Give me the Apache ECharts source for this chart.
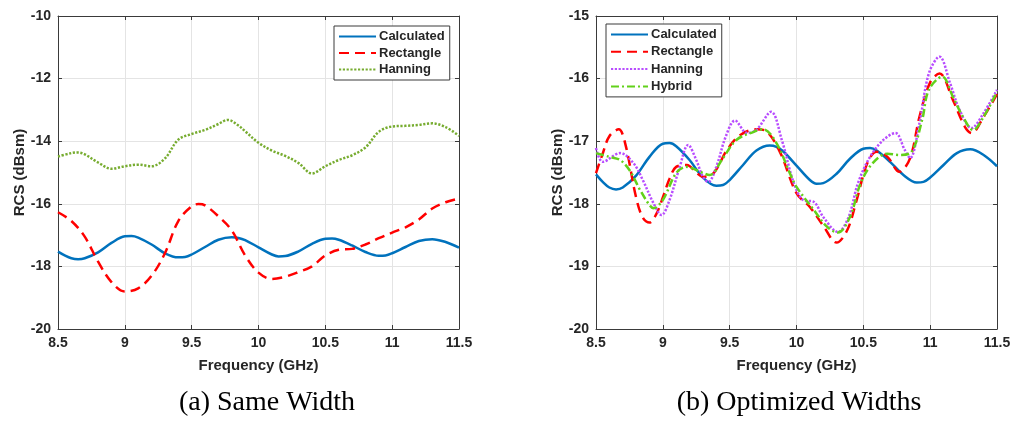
<!DOCTYPE html>
<html>
<head>
<meta charset="utf-8">
<script src="https://cdn.jsdelivr.net/npm/echarts@6/dist/echarts.min.js"></script>
<style>
  html, body { margin: 0; padding: 0; background: #ffffff; }
  #chart { width: 1015px; height: 421px; }
</style>
</head>
<body>
<div id="chart"></div>
<script>
// ---- Data (frequency in GHz, RCS in dBsm) ----
const xTicks = [8.5, 9, 9.5, 10, 10.5, 11, 11.5];
const captions = ['(a) Same Width', '(b) Optimized Widths'];

// Calculated response (same in both panels)
const calcFreq = [8.5, 8.55, 8.6, 8.65, 8.7, 8.8, 8.9, 9.0, 9.05, 9.1, 9.2, 9.3, 9.4, 9.45, 9.5, 9.6, 9.7, 9.8, 9.85, 9.9,
  10.0, 10.1, 10.15, 10.2, 10.3, 10.4, 10.5, 10.55, 10.6, 10.7, 10.8, 10.9, 10.95, 11.0, 11.1, 11.2, 11.3, 11.4, 11.5];
const calcRcs = [-17.53, -17.65, -17.74, -17.77, -17.74, -17.55, -17.25, -17.04, -17.03, -17.08, -17.30, -17.58, -17.71, -17.70, -17.62, -17.38, -17.15, -17.07, -17.09, -17.16,
  -17.39, -17.62, -17.68, -17.67, -17.52, -17.28, -17.12, -17.11, -17.15, -17.33, -17.54, -17.66, -17.65, -17.58, -17.38, -17.19, -17.13, -17.22, -17.40];

// (a) Same width
const rectAFreq = [8.5, 8.6, 8.7, 8.8, 8.9, 9.0, 9.1, 9.2, 9.3, 9.4, 9.5, 9.55, 9.6, 9.7, 9.8, 9.9, 10.0, 10.1, 10.2, 10.3,
  10.4, 10.5, 10.6, 10.7, 10.8, 10.9, 11.0, 11.1, 11.2, 11.3, 11.4, 11.5];
const rectARcs = [-16.27, -16.55, -17.05, -17.85, -18.50, -18.80, -18.70, -18.30, -17.58, -16.55, -16.08, -16.01, -16.05, -16.40, -16.85, -17.65, -18.20, -18.40, -18.33, -18.18,
  -18.00, -17.65, -17.47, -17.44, -17.30, -17.10, -16.92, -16.75, -16.50, -16.15, -15.95, -15.83];
const hannAFreq = [8.5, 8.6, 8.65, 8.7, 8.8, 8.9, 9.0, 9.1, 9.2, 9.3, 9.4, 9.5, 9.6, 9.7, 9.77, 9.85, 9.9, 10.0, 10.1, 10.2,
  10.3, 10.4, 10.5, 10.6, 10.7, 10.8, 10.9, 11.0, 11.1, 11.2, 11.3, 11.4, 11.5];
const hannARcs = [-14.49, -14.38, -14.36, -14.42, -14.68, -14.88, -14.80, -14.75, -14.80, -14.55, -13.95, -13.77, -13.64, -13.45, -13.32, -13.50, -13.68, -14.05, -14.30, -14.47,
  -14.70, -15.03, -14.80, -14.60, -14.45, -14.20, -13.70, -13.53, -13.51, -13.48, -13.43, -13.55, -13.83];

// (b) Optimized widths
const rectBFreq = [8.5, 8.55, 8.6, 8.67, 8.72, 8.8, 8.85, 8.9, 8.95, 9.0, 9.05, 9.1, 9.18, 9.25, 9.3, 9.38, 9.48, 9.58, 9.7, 9.78,
  9.88, 10.0, 10.1, 10.2, 10.3, 10.38, 10.45, 10.53, 10.6, 10.68, 10.77, 10.85, 10.92, 11.0, 11.07, 11.17, 11.26, 11.31, 11.4, 11.5];
const rectBRcs = [-17.51, -17.20, -16.92, -16.81, -17.05, -17.90, -18.22, -18.30, -18.17, -17.90, -17.60, -17.41, -17.38, -17.50, -17.57, -17.51, -17.14, -16.90, -16.81, -16.85,
  -17.19, -17.83, -18.05, -18.35, -18.62, -18.42, -17.94, -17.35, -17.17, -17.25, -17.49, -17.27, -16.61, -16.06, -15.92, -16.34, -16.77, -16.87, -16.61, -16.25];
const hannBFreq = [8.5, 8.55, 8.68, 8.78, 8.85, 8.93, 8.99, 9.05, 9.12, 9.19, 9.25, 9.3, 9.34, 9.4, 9.47, 9.54, 9.63, 9.7, 9.81, 9.89,
  9.98, 10.05, 10.13, 10.2, 10.31, 10.39, 10.46, 10.55, 10.65, 10.74, 10.81, 10.85, 10.92, 10.99, 11.07, 11.15, 11.22, 11.31, 11.4, 11.5];
const hannBRcs = [-17.11, -17.33, -17.19, -17.35, -17.62, -17.99, -18.18, -17.94, -17.46, -17.06, -17.30, -17.57, -17.65, -17.41, -16.93, -16.67, -16.87, -16.82, -16.53, -16.98,
  -17.67, -17.94, -17.97, -18.21, -18.45, -18.21, -17.67, -17.25, -16.98, -16.87, -17.14, -17.27, -16.71, -15.92, -15.65, -16.08, -16.50, -16.79, -16.55, -16.18];
const hybBFreq = [8.5, 8.6, 8.68, 8.75, 8.83, 8.9, 8.93, 9.0, 9.1, 9.18, 9.28, 9.35, 9.45, 9.55, 9.68, 9.75, 9.85, 9.95, 10.0, 10.13,
  10.23, 10.31, 10.4, 10.48, 10.57, 10.68, 10.77, 10.86, 10.94, 10.99, 11.09, 11.17, 11.25, 11.32, 11.4, 11.5];
const hybBRcs = [-17.19, -17.25, -17.30, -17.46, -17.78, -18.02, -18.07, -17.94, -17.51, -17.41, -17.49, -17.54, -17.27, -16.98, -16.85, -16.81, -17.03, -17.51, -17.73, -18.10,
  -18.37, -18.46, -18.21, -17.67, -17.35, -17.20, -17.22, -17.17, -16.66, -16.18, -15.97, -16.29, -16.63, -16.82, -16.61, -16.21];

// ---- Helpers ----
const zip = (xs, ys) => xs.map((x, i) => [x, ys[i]]);
const AX = '#3a3a3a';
const TXT = '#262626';
const FONT = 'Liberation Sans, Arial, sans-serif';
const SERIF = 'Liberation Serif, Times New Roman, serif';

function xAxes(grid) {
  const base = {
    type: 'value', gridIndex: grid, min: xTicks[0], max: xTicks[xTicks.length - 1], interval: 0.5,
    axisLine: { show: true, onZero: false, lineStyle: { color: AX, width: 1 } },
    axisTick: { show: true, inside: true, length: 4, lineStyle: { color: AX } },
  };
  return [
    Object.assign({}, base, {
      position: 'bottom',
      name: 'Frequency (GHz)',
      nameLocation: 'middle', nameGap: 29,
      nameTextStyle: { color: TXT, fontSize: 15, fontWeight: 'bold', fontFamily: FONT },
      axisLabel: { show: true, margin: 7, color: TXT, fontSize: 14, fontWeight: 'bold', fontFamily: FONT,
        formatter: v => String(v) },
      splitLine: { show: true, lineStyle: { color: '#e4e4e4', width: 1 } },
    }),
    Object.assign({}, base, {
      position: 'top', axisLabel: { show: false }, splitLine: { show: false },
    }),
  ];
}

function yAxes(grid, min, max, interval) {
  const base = {
    type: 'value', gridIndex: grid, min: min, max: max, interval: interval,
    axisLine: { show: true, onZero: false, lineStyle: { color: AX, width: 1 } },
    axisTick: { show: true, inside: true, length: 4, lineStyle: { color: AX } },
  };
  return [
    Object.assign({}, base, {
      position: 'left',
      name: 'RCS (dBsm)', nameLocation: 'middle', nameGap: 31, nameRotate: 90,
      nameTextStyle: { color: TXT, fontSize: 15, fontWeight: 'bold', fontFamily: FONT },
      axisLabel: { show: true, margin: 7, color: TXT, fontSize: 14, fontWeight: 'bold', fontFamily: FONT },
      splitLine: { show: true, lineStyle: { color: '#e4e4e4', width: 1 } },
    }),
    Object.assign({}, base, {
      position: 'right', axisLabel: { show: false }, splitLine: { show: false },
    }),
  ];
}

function line(name, data, xIdx, yIdx, color, type, width) {
  return {
    name: name, type: 'line', data: data,
    xAxisIndex: xIdx, yAxisIndex: yIdx,
    smooth: 0.35, symbol: 'none', clip: true,
    lineStyle: { color: color, width: width, type: type, cap: 'butt' },
    itemStyle: { color: color },
    emphasis: { disabled: true },
    z: 3,
  };
}

const BLUE = '#0072BD', RED = '#FF0000', GREEN_A = '#77AC30', PURPLE = '#B84DFF', GREEN_B = '#62D11A';

// legend keys show only the line sample, no marker
const legendBase = {
  orient: 'vertical', itemWidth: 37, itemHeight: 14,
  backgroundColor: '#ffffff', borderColor: AX, borderWidth: 1, borderRadius: 0,
  textStyle: { color: TXT, fontSize: 13, fontWeight: 'bold', fontFamily: FONT, padding: [0, 0, 0, -2] },
  itemStyle: { color: 'rgba(0,0,0,0)', borderColor: 'rgba(0,0,0,0)', borderWidth: 0, opacity: 0 },
  selectedMode: false,
};

const option = {
  animation: false,
  backgroundColor: '#ffffff',
  grid: [
    { left: 58, top: 16, width: 401, height: 313, show: false },
    { left: 596, top: 16, width: 401, height: 313, show: false },
  ],
  xAxis: [...xAxes(0), ...xAxes(1)],
  yAxis: [...yAxes(0, -20, -10, 2), ...yAxes(1, -20, -15, 1)],
  legend: [
    Object.assign({}, legendBase, {
      left: 334, top: 26, itemGap: 3.5, padding: [4, 5, 4, 4],
      data: ['Calculated', 'Rectangle', 'Hanning'].map(n => ({ name: n })),
      formatter: n => n,
    }),
    Object.assign({}, legendBase, {
      left: 606, top: 24, itemGap: 4.3, padding: [4, 5, 4, 4],
      data: ['Calculated ', 'Rectangle ', 'Hanning ', 'Hybrid'].map(n => ({ name: n })),
      formatter: n => n.trim(),
    }),
  ],
  title: [
    { text: captions[0], left: 262, top: 384, textAlign: 'center',
      textStyle: { fontFamily: SERIF, fontWeight: 'normal', fontSize: 28, color: '#000' } },
    { text: captions[1], left: 794, top: 384, textAlign: 'center',
      textStyle: { fontFamily: SERIF, fontWeight: 'normal', fontSize: 28, color: '#000' } },
  ],
  series: [
    line('Calculated', zip(calcFreq, calcRcs), 0, 0, BLUE, 'solid', 2.5),
    line('Rectangle', zip(rectAFreq, rectARcs), 0, 0, RED, [10, 6], 2.5),
    line('Hanning', zip(hannAFreq, hannARcs), 0, 0, GREEN_A, [2.2, 1.6], 2.5),

    line('Calculated ', zip(calcFreq, calcRcs), 2, 2, BLUE, 'solid', 2.5),
    line('Rectangle ', zip(rectBFreq, rectBRcs), 2, 2, RED, [10, 6], 2.5),
    line('Hanning ', zip(hannBFreq, hannBRcs), 2, 2, PURPLE, [2.2, 1.6], 2.5),
    line('Hybrid', zip(hybBFreq, hybBRcs), 2, 2, GREEN_B, [8, 3, 2, 3], 2.5),
  ],
};

const chart = echarts.init(document.getElementById('chart'), null, { renderer: 'canvas' });
chart.setOption(option);
</script>
</body>
</html>
